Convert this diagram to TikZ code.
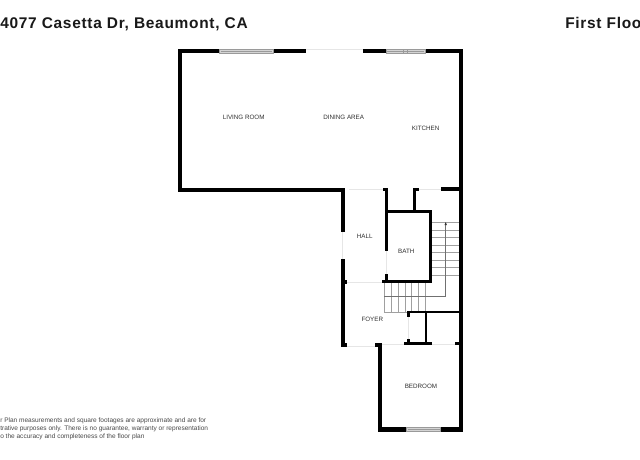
\documentclass[tikz,border=0pt]{standalone}
\usepackage{fontspec}
\setmainfont{Liberation Sans}
\newfontfamily\titlefont[LetterSpace=4.6]{Liberation Sans Bold}
\definecolor{roomtext}{HTML}{303030}
\definecolor{winfill}{HTML}{D4D4D4}
\definecolor{winedge}{HTML}{9A9A9A}
\definecolor{doorline}{HTML}{E6E6E6}
\definecolor{stairline}{HTML}{A0A0A0}
\definecolor{notetext}{HTML}{484848}
\tikzset{
  x=0.75pt, y=-0.75pt,
  wall/.style={fill=black, draw=none},
  windowpane/.style={fill=winfill, draw=winedge, line width=0.4pt},
  doorgap/.style={draw=doorline, line width=0.6pt},
  tread/.style={draw=stairline, line width=0.6pt},
  climb/.style={draw=stairline!70!black, line width=0.4pt},
  room/.style={font=\fontsize{4.7pt}{5pt}\selectfont, text=roomtext, inner sep=0pt},
  heading/.style={font=\titlefont\fontsize{11.6pt}{13pt}\selectfont, text=black!90, inner sep=0pt, anchor=base west},
  note/.style={font=\fontsize{4.9pt}{5pt}\selectfont, text=notetext, inner sep=0pt, anchor=base west}
}
\begin{document}
\begin{tikzpicture}
\useasboundingbox (0,0) rectangle (640,460);
\fill[white] (0,0) rectangle (640,460);
\begin{scope}
\clip (0,0) rectangle (640,460);
% stairs
\foreach \y in {222.7,230,237.7,245,252.7,260,267.3,275.7}
  \draw[tread] (431.7,\y) -- (459.3,\y);
\foreach \x in {384.3,391,398,405,411.7,418.7,425.7}
  \draw[tread] (\x,283) -- (\x,312);
\draw[tread] (384.3,312) -- (407.3,312);
\coordinate (climbstart) at (384.3,296.7);
\coordinate (climbturn) at (445.7,296.7);
\coordinate (climbend) at (445.7,223);
\draw[climb] (climbstart) -- (climbturn) -- (climbend);
\fill[black!80] (445.7,222) -- (446.9,225) -- (444.5,225) -- cycle;
% door openings
\draw[doorgap] (349,189.5) -- (383,189.5);
\draw[doorgap] (419,189.5) -- (441,189.5);
\draw[doorgap] (342.8,231.7) -- (342.8,259.3);
\draw[doorgap] (386,250.7) -- (386,274);
\draw[doorgap] (346,282) -- (382,282);
\draw[doorgap] (346,346) -- (375,346);
\draw[doorgap] (408.6,317.3) -- (408.6,339.3);
\draw[doorgap] (382,344) -- (404,344);
\draw[doorgap] (432,344) -- (454.7,344);
\draw[doorgap] (306,49.8) -- (362.7,49.8);
% outer walls of the main room
\fill[wall] (178.3,49) rectangle (219.3,53.3);
\fill[wall] (273.3,49) rectangle (306,53.3);
\fill[wall] (362.7,49) rectangle (386,53.3);
\fill[wall] (425,49) rectangle (463.3,53.3);
\fill[wall] (178.3,49) rectangle (182.3,192);
\fill[wall] (178.3,187.7) rectangle (345,192);
\fill[wall] (459.3,49) rectangle (463.3,431.7);
% hall
\fill[wall] (340.7,188) rectangle (345,231.7);
\fill[wall] (340.7,259.3) rectangle (345,347.3);
\fill[wall] (345,280) rectangle (347.3,284);
\fill[wall] (345,343.3) rectangle (346.7,347.3);
\fill[wall] (382.7,188) rectangle (387.6,191);
\fill[wall] (384.8,188) rectangle (387.6,250.7);
\fill[wall] (384.8,274) rectangle (387.6,283);
% bath
\fill[wall] (384.8,209.8) rectangle (431.9,212.8);
\fill[wall] (429.1,209.8) rectangle (431.9,283.2);
\fill[wall] (381.7,280.4) rectangle (431.9,283.2);
% kitchen stubs
\fill[wall] (413.3,188) rectangle (419,190.9);
\fill[wall] (413.3,188) rectangle (416.2,210);
\fill[wall] (441,187.3) rectangle (459.3,190.9);
% closet
\fill[wall] (407.3,310.5) rectangle (459.3,313.4);
\fill[wall] (407.3,310.5) rectangle (410.1,317.3);
\fill[wall] (407.3,339.3) rectangle (410.1,345.2);
\fill[wall] (404,342.4) rectangle (432,345.2);
\fill[wall] (424.5,313) rectangle (427.3,343);
\fill[wall] (454.7,342.4) rectangle (459.3,345.2);
% bedroom
\fill[wall] (375,342.7) rectangle (382,346.7);
\fill[wall] (377.7,342.7) rectangle (382,431.7);
\fill[wall] (377.7,427.3) rectangle (406.7,431.7);
\fill[wall] (440.7,427.3) rectangle (463.3,431.7);
% windows
\draw[windowpane] (219.3,49.4) rectangle (273.3,52.9);
\draw[winedge, line width=0.3pt] (220.5,51.1) -- (272,51.1);
\draw[windowpane] (386,49.4) rectangle (425,52.9);
\draw[winedge, line width=0.3pt] (387,51.1) -- (424,51.1);
\draw[winedge, line width=0.3pt] (403,49.4) rectangle (407.5,52.9);
\draw[windowpane] (406.7,427.7) rectangle (440.7,431.3);
\draw[winedge, line width=0.3pt] (407.5,429.5) -- (440,429.5);
\end{scope}
% room labels
\node[room] (living) at (243.7,117.7) {LIVING ROOM};
\node[room] (dining) at (343.7,117) {DINING AREA};
\node[room] (kitchen) at (425.7,128.7) {KITCHEN};
\node[room] (hall) at (364.7,236) {HALL};
\node[room] (bath) at (406.3,251) {BATH};
\node[room] (foyer) at (372.3,319) {FOYER};
\node[room] (bedroom) at (421,386.3) {BEDROOM};
% headings
\node[heading] (address) at (0,29) {4077 Casetta Dr, Beaumont, CA};
\node[heading] (floor) at (565,29) {First Floo};
% disclaimer
\node[note] (noteA) at (0,422.6) {r Plan measurements and square footages are approximate and are for};
\node[note] (noteB) at (0,430.6) {trative purposes only. There is no guarantee, warranty or representation};
\node[note] (noteC) at (0,438.8) {o the accuracy and completeness of the floor plan};
\end{tikzpicture}
\end{document}
